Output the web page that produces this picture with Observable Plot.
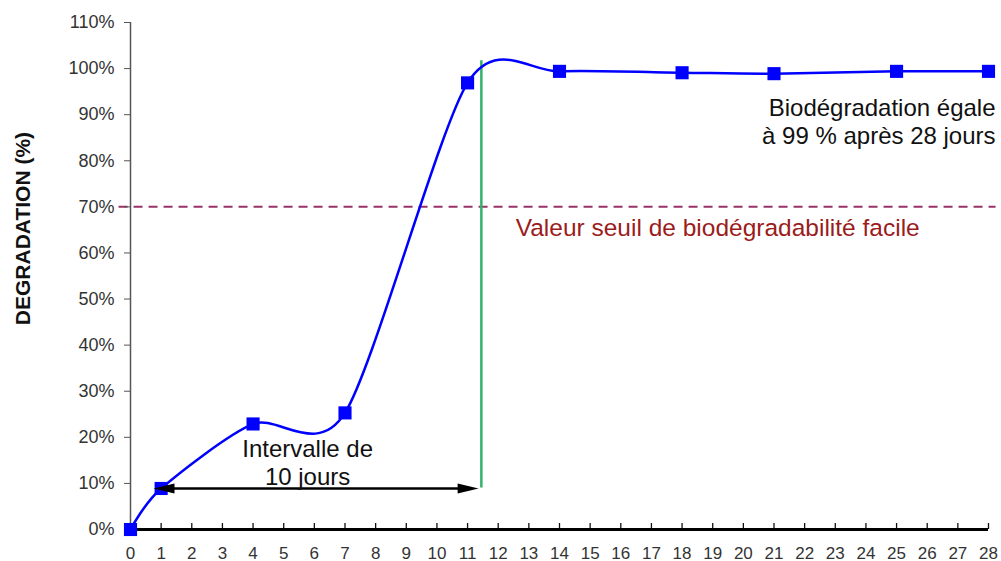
<!DOCTYPE html>
<html>
<head>
<meta charset="utf-8">
<script src="https://cdn.jsdelivr.net/npm/d3@7"></script>
<script src="https://cdn.jsdelivr.net/npm/@observablehq/plot@0.6"></script>
<style>
  html, body { margin: 0; padding: 0; background: #fff; }
</style>
</head>
<body>
<div id="chart"></div>
<script>
// ---- data ----
const days = [0, 1, 4, 7, 11, 14, 18, 21, 25, 28];
const degradation = [0, 8.9, 22.9, 25.3, 96.9, 99.4, 99.1, 98.9, 99.4, 99.4];
const xTicks = d3.range(0, 29);
const yTicks = [0, 10, 20, 30, 40, 50, 60, 70, 80, 90, 100, 110];
const threshold = 70;
const thresholdLabel = "Valeur seuil de biodégradabilité facile";
const finalLabel = "Biodégradation égale\nà 99 % après 28 jours";
const intervalLabel = "Intervalle de\n10 jours";
const yLabel = "DEGRADATION (%)";
// annotation anchors (data units: day, %)
const tenDayStart = 0.75, tenDayEnd = 11.36, tenDayLevel = 8.9;
const greenDay = 11.45, greenFrom = 9.1, greenTo = 101.8;

const data = days.map((d, i) => ({day: d, value: degradation[i]}));

const font = "'Liberation Sans', Arial, Helvetica, sans-serif";

const arrowRight = {
  draw(ctx) { ctx.moveTo(0, 0); ctx.lineTo(-21, -5); ctx.lineTo(-21, 5); ctx.closePath(); }
};
const arrowLeft = {
  draw(ctx) { ctx.moveTo(0, 0); ctx.lineTo(21, -5); ctx.lineTo(21, 5); ctx.closePath(); }
};

const plotH = 561 - 22 - 32;

const chart = Plot.plot({
  width: 1001,
  height: 561,
  marginLeft: 130,
  marginRight: 13,
  marginTop: 22,
  marginBottom: 32,
  style: {fontFamily: font, fontSize: "17px", color: "#333", background: "#fff", overflow: "visible"},
  x: {domain: [0, 28]},
  y: {domain: [0, 110]},
  marks: [
    // threshold dashed line
    Plot.link([{x1: -0.39, x2: 28.23, y: threshold}], {
      x1: "x1", x2: "x2", y1: "y", y2: "y",
      stroke: "#993366", strokeWidth: 2, strokeDasharray: "9,6"
    }),
    // green vertical line
    Plot.link([{x: greenDay, y1: greenFrom, y2: greenTo}], {
      x1: "x", x2: "x", y1: "y1", y2: "y2",
      stroke: "#33b26b", strokeWidth: 2.5
    }),
    // axes
    Plot.ruleX([0], {stroke: "#555", strokeWidth: 1.5}),
    Plot.axisY({
      ticks: yTicks, tickFormat: d => d + "%", tickSize: 6, tickPadding: 10,
      stroke: "#555", fill: "#333", fontSize: 18, label: null
    }),
    Plot.tickX(xTicks, {x: d => d, insetTop: plotH - 6, stroke: "#111", strokeWidth: 1.3}),
    Plot.axisX({
      ticks: xTicks, tickSize: 0, tickPadding: 17, fill: "#333", fontSize: 17, label: null
    }),
    Plot.ruleY([0], {stroke: "#000", strokeWidth: 3}),
    // series
    Plot.line(data, {x: "day", y: "value", curve: "cardinal", tension: 0.2, stroke: "#0000ff", strokeWidth: 2.5}),
    Plot.dot(data, {x: "day", y: "value", symbol: "square", r: 7.4, fill: "#0000ff", stroke: "none"}),
    // 10-day double arrow
    Plot.link([{x1: tenDayStart + 0.3, x2: tenDayEnd - 0.3, y: tenDayLevel}], {
      x1: "x1", x2: "x2", y1: "y", y2: "y", stroke: "#000", strokeWidth: 2.5
    }),
    Plot.dot([{x: tenDayEnd, y: tenDayLevel}], {x: "x", y: "y", symbol: arrowRight, fill: "#000", stroke: "none"}),
    Plot.dot([{x: tenDayStart, y: tenDayLevel}], {x: "x", y: "y", symbol: arrowLeft, fill: "#000", stroke: "none"}),
    // annotations
    Plot.text([intervalLabel], {x: 5.78, y: 14.6, text: d => d, fontSize: 24, fill: "#111", lineHeight: 1.18, textAnchor: "middle"}),
    Plot.text([finalLabel], {x: 28.23, y: 88.6, text: d => d, fontSize: 24, fill: "#111", lineHeight: 1.18, textAnchor: "end"}),
    Plot.text([thresholdLabel], {x: 12.57, y: 65.4, text: d => d, fontSize: 24.5, fill: "#9b1c1c", textAnchor: "start"}),
    Plot.text([yLabel], {x: -3.49, y: 65.3, text: d => d, rotate: -90, fontSize: 21, fontWeight: "bold", fill: "#111"})
  ]
});

document.getElementById("chart").appendChild(chart);
</script>
</body>
</html>
